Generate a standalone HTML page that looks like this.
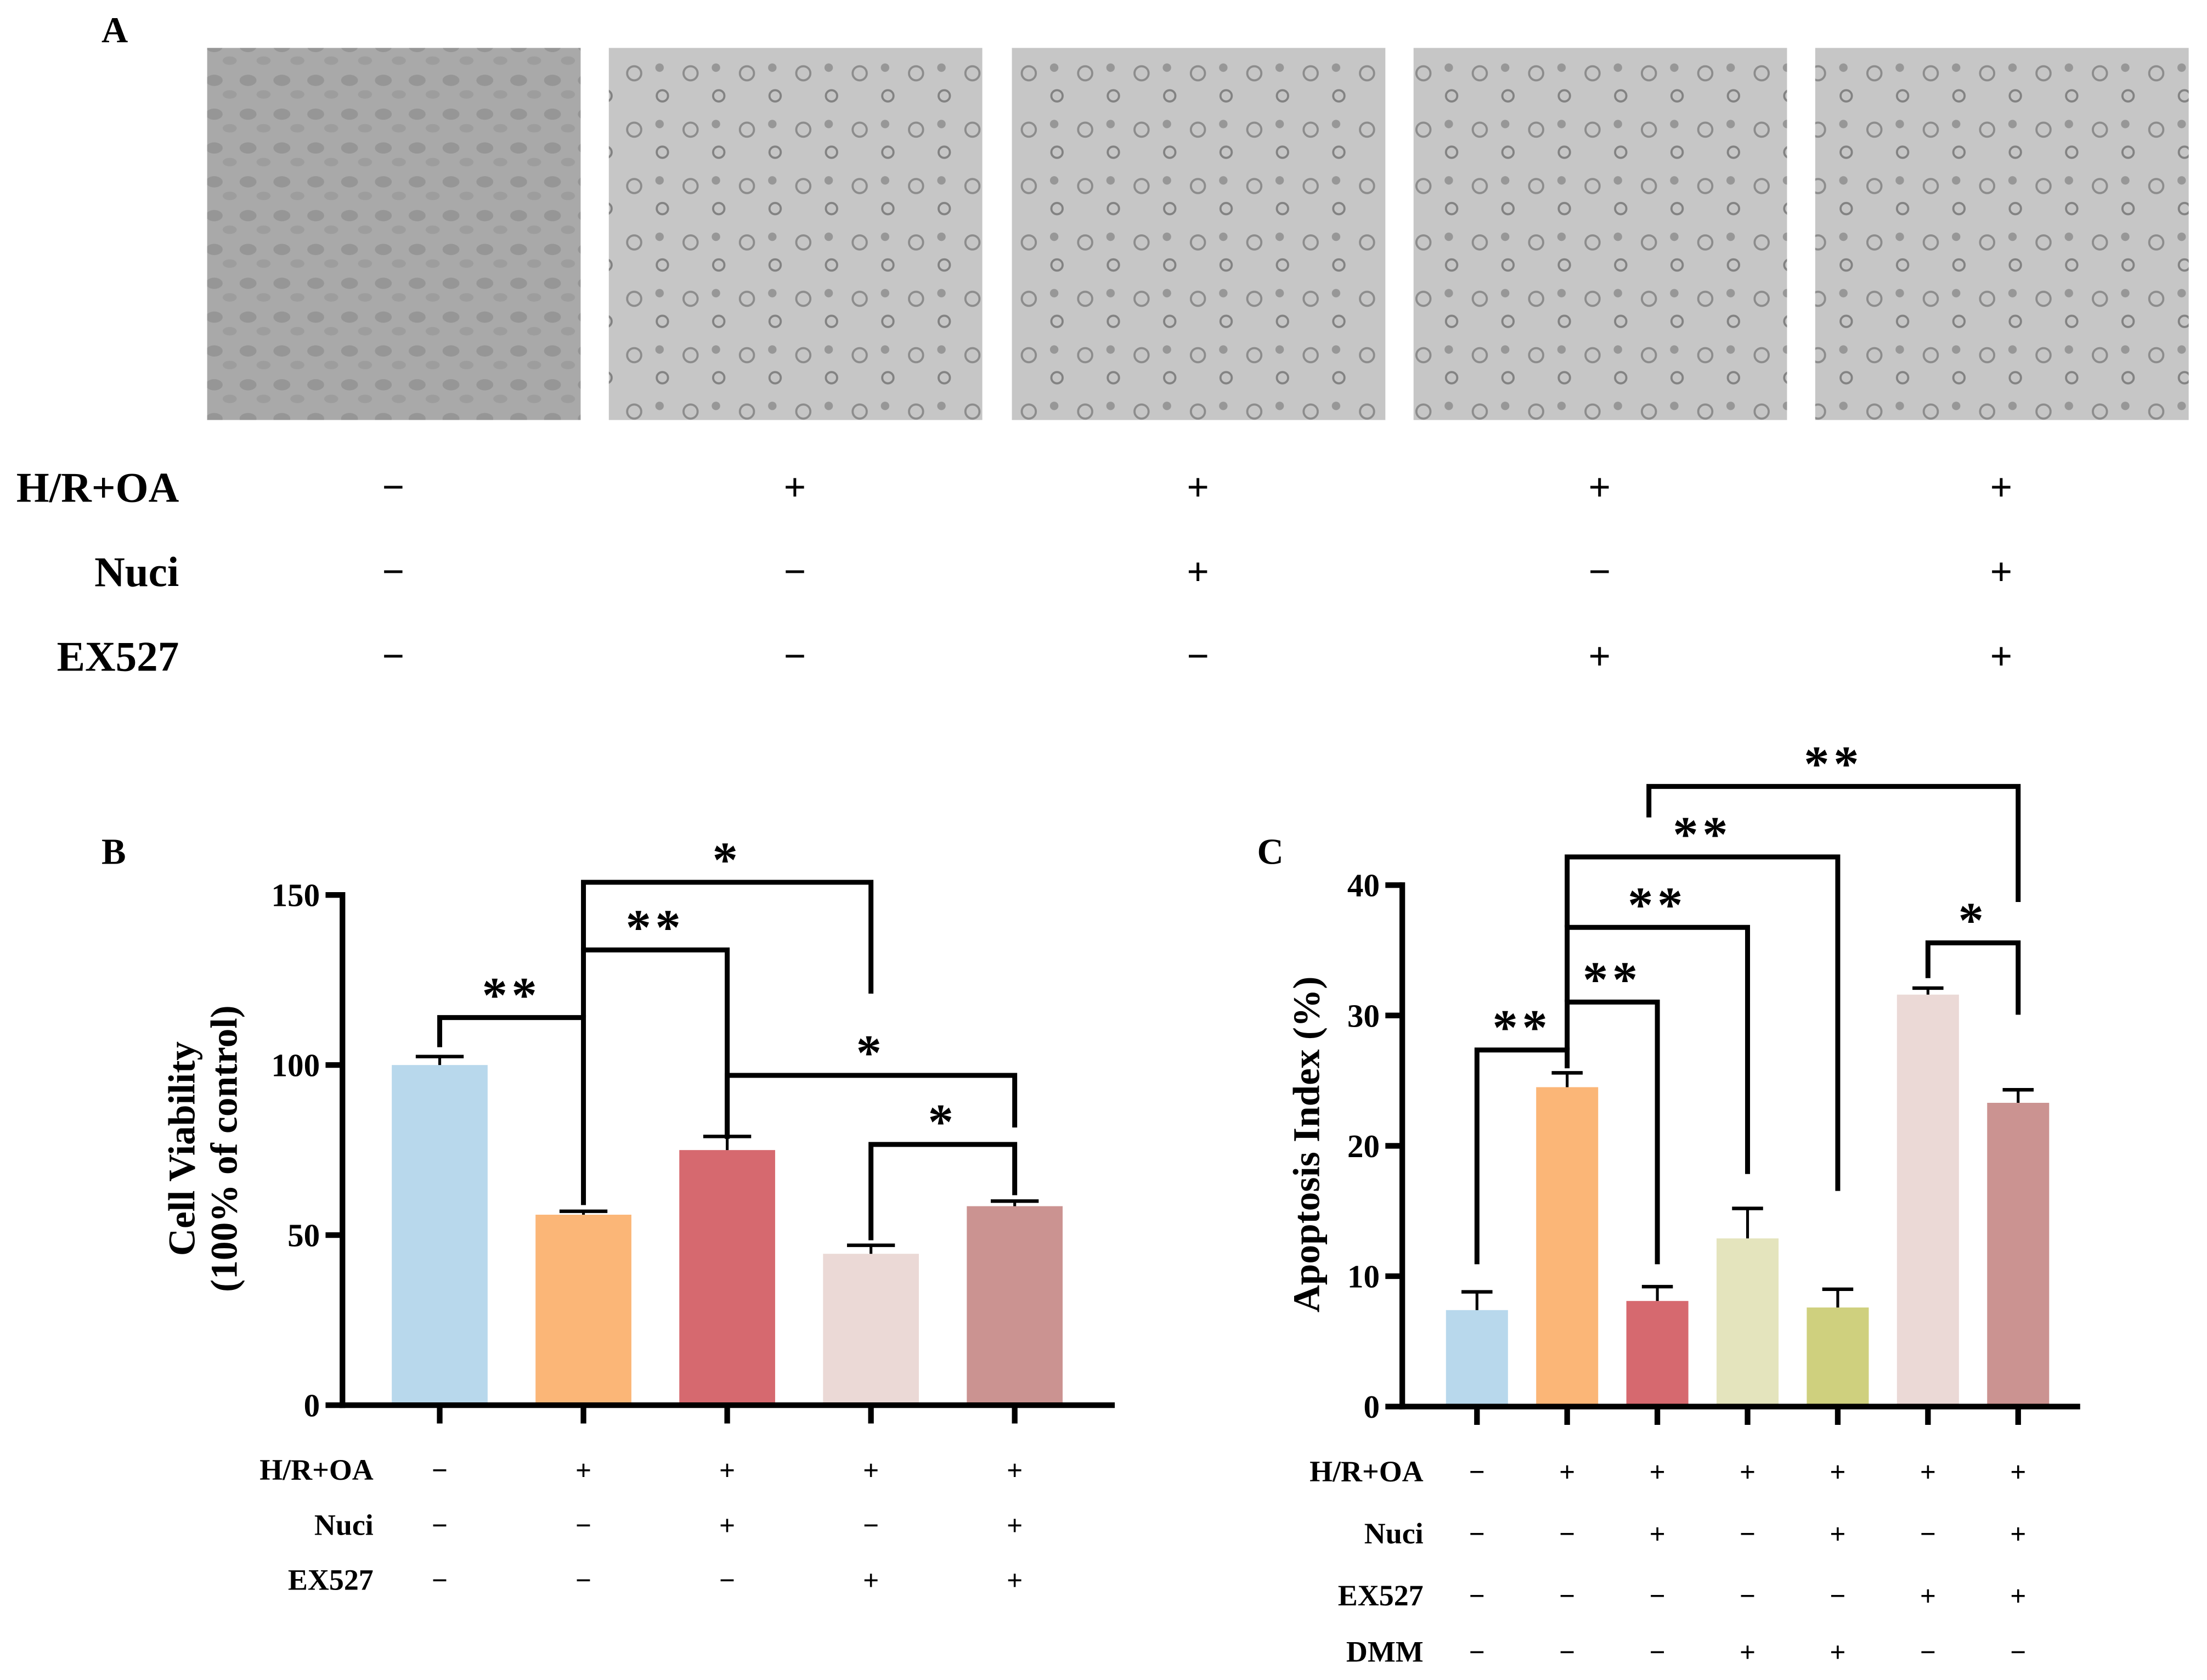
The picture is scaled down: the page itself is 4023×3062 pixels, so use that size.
<!DOCTYPE html>
<html><head><meta charset="utf-8"><style>
html,body{margin:0;padding:0;background:#fff}
svg{display:block}
text{font-family:"Liberation Serif",serif;font-weight:bold;fill:#000}
</style></head><body>
<svg id="fig" width="4023" height="3062" viewBox="0 0 1566 1192" preserveAspectRatio="none" xmlns="http://www.w3.org/2000/svg">
<defs>
<pattern id="cells" width="40" height="40" patternUnits="userSpaceOnUse">
<circle cx="10" cy="12" r="5" fill="none" stroke="#666" stroke-width="1.5"/>
<circle cx="30" cy="28" r="4" fill="none" stroke="#555" stroke-width="1.5"/>
<circle cx="28" cy="8" r="3" fill="#777"/>
</pattern>
<pattern id="cells1" width="24" height="24" patternUnits="userSpaceOnUse">
<ellipse cx="8" cy="9" rx="6" ry="4" fill="#8a8a8a"/>
<ellipse cx="19" cy="19" rx="5" ry="3" fill="#959595"/>
</pattern>
</defs>
<g id="panelA"></g>
<g id="chartB"></g>
<g id="chartC"></g>
</svg>
<script>
const NS='http://www.w3.org/2000/svg';
function mk(p,tag,a,txt){const e=document.createElementNS(NS,tag);for(const k in a)e.setAttribute(k,a[k]);if(txt!==undefined)e.textContent=txt;p.appendChild(e);return e;}

// Chart B data
const bCategories=['Control','H/R+OA','H/R+OA+Nuci','H/R+OA+EX527','H/R+OA+Nuci+EX527'];
const bValues=[100,56,75,44.5,58.5];
const bErrors=[2.5,1,4,2.5,1.5];
const bTicks=[0,50,100,150];
// Chart C data
const cCategories=['Control','H/R+OA','Nuci','DMM','Nuci+DMM','EX527','Nuci+EX527'];
const cValues=[7.4,24.5,8.1,12.9,7.6,31.6,23.3];
const cErrors=[1.4,1.1,1.1,2.3,1.4,0.5,1.0];
const cTicks=[0,10,20,30,40];

const A=document.getElementById('panelA');
mk(A,'text',{x:72,y:30,'font-size':26,},'A');
const imgX=[147,432,718,1003,1288];
imgX.forEach((x,i)=>{
  const r=mk(A,'rect',{x:x,y:34,width:265,height:264,fill:i==0?'#a9a9a9':'#c6c6c6'});
  
  
  mk(A,'rect',{x:x,y:34,width:265,height:264,fill:i==0?'url(#cells1)':'url(#cells)',opacity:0.6});
});
const aRows=[['H/R+OA',346,['−','+','+','+','+']],['Nuci',406,['−','−','+','−','+']],['EX527',466,['−','−','−','+','+']]];
aRows.forEach(r=>{
  const t=mk(A,'text',{x:127,y:r[1]+10,'font-size':30,'text-anchor':'end'},r[0]);
  
  
  r[2].forEach((s,i)=>mk(A,'text',{x:imgX[i]+132,y:r[1]+9,'font-size':28,'text-anchor':'middle'},s));
});

function drawChart(g,o){
  const y=v=>o.y0-(v-0)*(o.y0-o.yTop)/o.vmax;
  const x=i=>o.x0c+i*o.dx;
  mk(g,'text',{x:o.lx,y:o.ly,'font-size':26},o.letter);
  o.ticks.forEach(t=>{
    mk(g,'line',{x1:o.ax-12,x2:o.ax,y1:y(t),y2:y(t),stroke:'#000','stroke-width':4});
    const tl=mk(g,'text',{x:o.ax-16,y:y(t)+8,'font-size':23,'text-anchor':'end'},String(t));
    
    
  });
  o.values.forEach((v,i)=>{
    const b=mk(g,'rect',{x:x(i)-o.bw/2,y:y(v),width:o.bw,height:o.y0-y(v),fill:o.colors[i]});
    
    
    const et=y(v+o.errors[i]);
    mk(g,'line',{x1:x(i),x2:x(i),y1:et,y2:y(v),stroke:'#000','stroke-width':2});
    mk(g,'line',{x1:x(i)-o.bw*0.25,x2:x(i)+o.bw*0.25,y1:et,y2:et,stroke:'#000','stroke-width':2.5});
    mk(g,'line',{x1:x(i),x2:x(i),y1:o.y0,y2:o.y0+13,stroke:'#000','stroke-width':4});
  });
  const ya=mk(g,'line',{x1:o.ax,x2:o.ax,y1:y(o.vmax)-2,y2:o.y0+2,stroke:'#000','stroke-width':4});
  
  const xa=mk(g,'line',{x1:o.ax-2,x2:o.axEnd,y1:o.y0,y2:o.y0,stroke:'#000','stroke-width':4});
  
  o.titleLines.forEach((s,k)=>{
    const tt=mk(g,'text',{x:0,y:0,'font-size':27,'text-anchor':'middle',transform:`translate(${o.tx+k*30},${o.ty}) rotate(-90)`},s);
    
    
  });
  o.brackets.forEach(br=>{
    const [i,j,by,ly,ry,lab]=br;
    const x1=br[6]!==undefined?br[6]:x(i);
    mk(g,'polyline',{points:`${x1},${ly} ${x1},${by} ${x(j)},${by} ${x(j)},${ry}`,fill:'none',stroke:'#000','stroke-width':3.5});
    const st=mk(g,'text',{x:(x1+x(j))/2,y:by-4,'font-size':36,'text-anchor':'middle','letter-spacing':3},lab);
    
    
  });
  o.rows.forEach((r,k)=>{
    const ry=o.rowY[k];
    mk(g,'text',{x:o.rowLabelX,y:ry+7,'font-size':21,'text-anchor':'end'},r[0]);
    r[1].forEach((s,i)=>mk(g,'text',{x:x(i),y:ry+7,'font-size':20,'text-anchor':'middle'},s));
  });
}

drawChart(document.getElementById('chartB'),{
  letter:'B',lx:72,ly:613,x0c:312,dx:102,bw:68,ax:243,axEnd:791,y0:997,yTop:635,vmax:150,
  ticks:bTicks,values:bValues,errors:bErrors,
  colors:['#b8d8ec','#fbb677','#d6696f','#ebd9d6','#cb9391'],
  titleLines:['Cell Viability','(100% of control)'],tx:138,ty:815,
  brackets:[[0,1,722,743,855,'**'],[1,2,674,722,808,'**'],[1,3,626,674,705,'*'],[2,4,763,808,800,'*'],[3,4,812,880,848,'*']],
  rows:[['H/R+OA',['−','+','+','+','+']],['Nuci',['−','−','+','−','+']],['EX527',['−','−','−','+','+']]],
  rowY:[1043,1082,1121],rowLabelX:265
});
drawChart(document.getElementById('chartC'),{
  letter:'C',lx:892,ly:613,x0c:1048,dx:64,bw:44,ax:995,axEnd:1476,y0:998,yTop:628,vmax:40,
  ticks:cTicks,values:cValues,errors:cErrors,
  colors:['#b8d8ec','#fbb677','#d6696f','#e4e4bd','#cfd07e','#ebd9d6','#cb9391'],
  titleLines:['Apoptosis Index (%)'],tx:936,ty:812,
  brackets:[[0,1,745,897,758,'**'],[1,2,711,745,897,'**'],[1,3,658,711,833,'**'],[1,4,608,658,845,'**'],[1,6,558,580,640,'**',1170],[5,6,669,694,720,'*']],
  rows:[['H/R+OA',['−','+','+','+','+','+','+']],['Nuci',['−','−','+','−','+','−','+']],['EX527',['−','−','−','−','−','+','+']],['DMM',['−','−','−','+','+','−','−']]],
  rowY:[1044,1088,1132,1172],rowLabelX:1010
});
</script>
</body></html>
